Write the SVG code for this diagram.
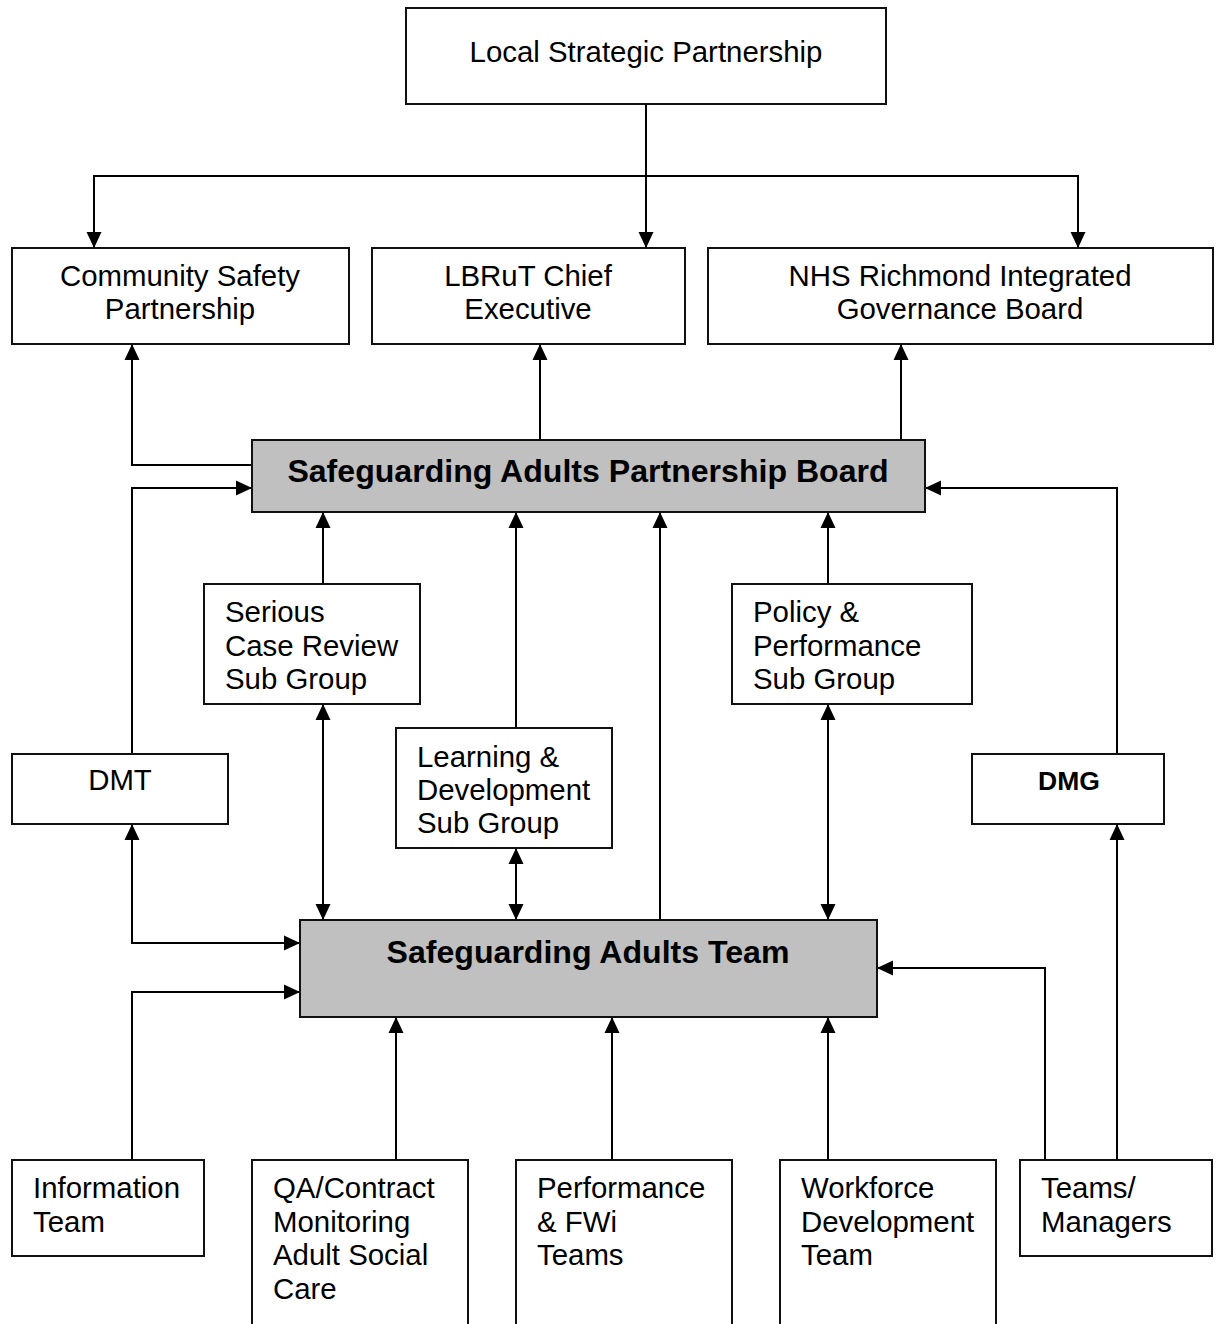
<svg xmlns="http://www.w3.org/2000/svg" width="1216" height="1324" viewBox="0 0 1216 1324">
<style>
.box{fill:#fff;stroke:#111;stroke-width:2}
.grey{fill:#c0c0c0;stroke:#111;stroke-width:2}
.t{font-family:"Liberation Sans",Arial,sans-serif;font-size:29.4px;fill:#000}
.c{text-anchor:middle}
.b{font-family:"Liberation Sans",Arial,sans-serif;font-weight:bold;font-size:32.1px;fill:#000;text-anchor:middle}
.conn path{fill:none;stroke:#000;stroke-width:2}
.a{marker-end:url(#ah)}
.d{marker-start:url(#ah);marker-end:url(#ah)}
</style>
<defs>
<marker id="ah" viewBox="0 0 16 16" refX="16" refY="8" markerWidth="16" markerHeight="16" markerUnits="userSpaceOnUse" orient="auto-start-reverse">
<path d="M0,0.5 L16,8 L0,15.5 z" fill="#000"/>
</marker>
</defs>
<rect width="1216" height="1324" fill="#fff"/>
<g class="conn">
<path class="a" d="M646,104 V248"/>
<path class="a" d="M646,176 H94 V248"/>
<path class="a" d="M646,176 H1078 V248"/>
<path class="a" d="M252,465 H132 V344"/>
<path class="a" d="M540,440 V344"/>
<path class="a" d="M901,440 V344"/>
<path class="a" d="M132,754 V488 H252"/>
<path class="a" d="M1117,754 V488 H925"/>
<path class="a" d="M323,584 V512"/>
<path class="d" d="M323,704 V920"/>
<path class="a" d="M516,728 V512"/>
<path class="d" d="M516,848 V920"/>
<path class="a" d="M660,920 V512"/>
<path class="a" d="M828,584 V512"/>
<path class="d" d="M828,704 V920"/>
<path class="d" d="M132,824 V943 H300"/>
<path class="a" d="M132,1160 V992 H300"/>
<path class="a" d="M396,1160 V1017"/>
<path class="a" d="M612,1160 V1017"/>
<path class="a" d="M828,1160 V1017"/>
<path class="a" d="M1045,1160 V968 H877"/>
<path class="a" d="M1117,1160 V824"/>
</g>
<g id="lsp"><rect class="box" x="406" y="8" width="480" height="96"/><text class="t c" x="646" y="62">Local Strategic Partnership</text></g>
<g id="csp"><rect class="box" x="12" y="248" width="337" height="96"/><text class="t c" x="180" y="286">Community Safety</text><text class="t c" x="180" y="319">Partnership</text></g>
<g id="lbrut"><rect class="box" x="372" y="248" width="313" height="96"/><text class="t c" x="528" y="286">LBRuT Chief</text><text class="t c" x="528" y="319">Executive</text></g>
<g id="nhs"><rect class="box" x="708" y="248" width="505" height="96"/><text class="t c" x="960" y="286">NHS Richmond Integrated</text><text class="t c" x="960" y="319">Governance Board</text></g>
<g id="sapb"><rect class="grey" x="252" y="440" width="673" height="72"/><text class="b" x="588" y="482">Safeguarding Adults Partnership Board</text></g>
<g id="scr"><rect class="box" x="204" y="584" width="216" height="120"/><text class="t" x="225" y="622">Serious</text><text class="t" x="225" y="656">Case Review</text><text class="t" x="225" y="689">Sub Group</text></g>
<g id="pp"><rect class="box" x="732" y="584" width="240" height="120"/><text class="t" x="753" y="622">Policy &amp;</text><text class="t" x="753" y="656">Performance</text><text class="t" x="753" y="689">Sub Group</text></g>
<g id="ld"><rect class="box" x="396" y="728" width="216" height="120"/><text class="t" x="417" y="767">Learning &amp;</text><text class="t" x="417" y="800">Development</text><text class="t" x="417" y="833">Sub Group</text></g>
<g id="dmt"><rect class="box" x="12" y="754" width="216" height="70"/><text class="t c" x="120" y="790">DMT</text></g>
<g id="dmg"><rect class="box" x="972" y="754" width="192" height="70"/><text class="b" x="1069" y="790" style="font-size:26.5px">DMG</text></g>
<g id="sat"><rect class="grey" x="300" y="920" width="577" height="97"/><text class="b" x="588" y="963">Safeguarding Adults Team</text></g>
<g id="info"><rect class="box" x="12" y="1160" width="192" height="96"/><text class="t" x="33" y="1198">Information</text><text class="t" x="33" y="1232">Team</text></g>
<g id="qa"><rect class="box" x="252" y="1160" width="216" height="190"/><text class="t" x="273" y="1198">QA/Contract</text><text class="t" x="273" y="1232">Monitoring</text><text class="t" x="273" y="1265">Adult Social</text><text class="t" x="273" y="1299">Care</text></g>
<g id="perf"><rect class="box" x="516" y="1160" width="216" height="190"/><text class="t" x="537" y="1198">Performance</text><text class="t" x="537" y="1232">&amp; FWi</text><text class="t" x="537" y="1265">Teams</text></g>
<g id="wd"><rect class="box" x="780" y="1160" width="216" height="190"/><text class="t" x="801" y="1198">Workforce</text><text class="t" x="801" y="1232">Development</text><text class="t" x="801" y="1265">Team</text></g>
<g id="tm"><rect class="box" x="1020" y="1160" width="192" height="96"/><text class="t" x="1041" y="1198">Teams/</text><text class="t" x="1041" y="1232">Managers</text></g>
</svg>
